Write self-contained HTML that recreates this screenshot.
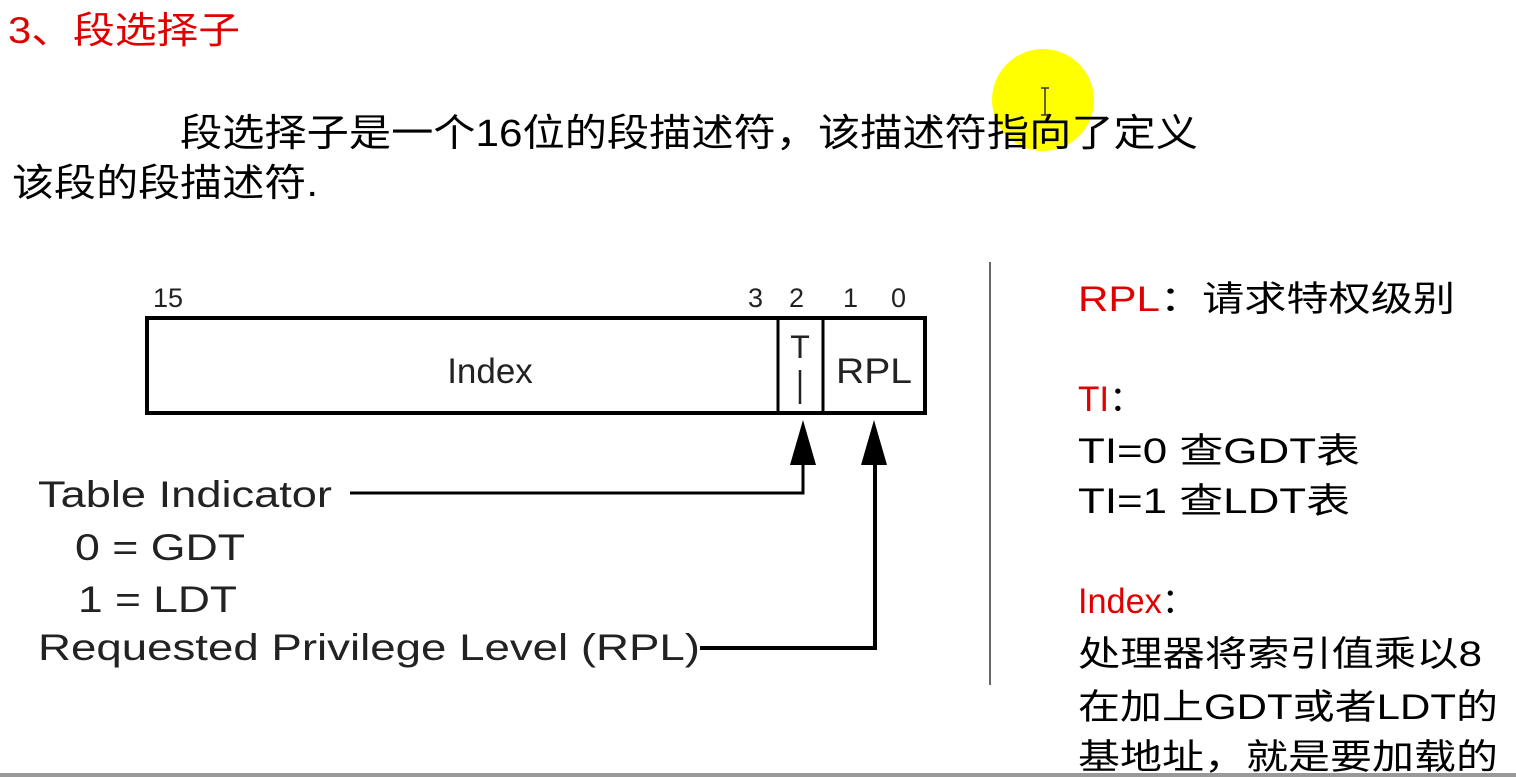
<!DOCTYPE html>
<html><head><meta charset="utf-8"><style>
html,body{margin:0;padding:0;background:#fff;}
svg{display:block}
text{font-family:"Liberation Sans","Noto Sans CJK SC",sans-serif;}
</style></head><body>
<svg width="1516" height="777" viewBox="0 0 1516 777" xmlns="http://www.w3.org/2000/svg">
<rect width="1516" height="777" fill="#fff"/>
<circle cx="1043" cy="100" r="51" fill="#ffff00"/>
<text x="8" y="43" font-size="37" fill="#e00000" textLength="232" lengthAdjust="spacingAndGlyphs">3、段选择子</text>
<text x="180" y="146" font-size="38" fill="#000" textLength="1018" lengthAdjust="spacingAndGlyphs">段选择子是一个16位的段描述符，该描述符指向了定义</text>
<text x="12" y="196" font-size="38" fill="#000" textLength="306" lengthAdjust="spacingAndGlyphs">该段的段描述符.</text>
<path d="M1041 88h8M1045 88v27M1041 115h8" stroke="#333" stroke-width="1.5" fill="none"/>

<g fill="#222" font-size="27">
<text x="153" y="307">15</text>
<text x="748" y="307">3</text>
<text x="789" y="307">2</text>
<text x="843" y="307">1</text>
<text x="891" y="307">0</text>
</g>
<rect x="147" y="318" width="778" height="95" fill="none" stroke="#000" stroke-width="4"/>
<line x1="778" y1="318" x2="778" y2="413" stroke="#000" stroke-width="3"/>
<line x1="823" y1="318" x2="823" y2="413" stroke="#000" stroke-width="3"/>
<text x="490" y="383" font-size="35" fill="#222" text-anchor="middle">Index</text>
<text x="800" y="358" font-size="32" fill="#222" text-anchor="middle">T</text>
<line x1="800" y1="370" x2="800" y2="404" stroke="#222" stroke-width="2.5"/>
<text x="836" y="383" font-size="35" fill="#222" textLength="76" lengthAdjust="spacingAndGlyphs">RPL</text>

<path d="M350 493H803V450" stroke="#000" stroke-width="3" fill="none"/>
<polygon points="803,420 790,465 816,465" fill="#000"/>
<path d="M700 648H875V450" stroke="#000" stroke-width="4" fill="none"/>
<polygon points="874,420 861,465 887,465" fill="#000"/>

<g font-size="37" fill="#222">
<text x="38" y="507" textLength="294" lengthAdjust="spacingAndGlyphs">Table Indicator</text>
<text x="75" y="560" textLength="170" lengthAdjust="spacingAndGlyphs">0 = GDT</text>
<text x="78" y="612" textLength="159" lengthAdjust="spacingAndGlyphs">1 = LDT</text>
<text x="38" y="660" textLength="662" lengthAdjust="spacingAndGlyphs">Requested Privilege Level (RPL)</text>
</g>

<line x1="990" y1="262" x2="990" y2="685" stroke="#333" stroke-width="1.5"/>

<g font-size="35">
<text x="1078" y="311" textLength="377" lengthAdjust="spacingAndGlyphs"><tspan fill="#e00000">RPL</tspan><tspan fill="#000">：请求特权级别</tspan></text>
<text x="1078" y="411"><tspan fill="#e00000">TI</tspan><tspan fill="#000">：</tspan></text>
<text x="1078" y="463" fill="#000" textLength="282" lengthAdjust="spacingAndGlyphs">TI=0  查GDT表</text>
<text x="1078" y="513" fill="#000" textLength="272" lengthAdjust="spacingAndGlyphs">TI=1  查LDT表</text>
<text x="1078" y="613" textLength="118" lengthAdjust="spacingAndGlyphs"><tspan fill="#e00000">Index</tspan><tspan fill="#000">：</tspan></text>
<text x="1078" y="666" fill="#000" textLength="404" lengthAdjust="spacingAndGlyphs">处理器将索引值乘以8</text>
<text x="1078" y="719" fill="#000" textLength="420" lengthAdjust="spacingAndGlyphs">在加上GDT或者LDT的</text>
<text x="1078" y="769" fill="#000" textLength="420" lengthAdjust="spacingAndGlyphs">基地址，就是要加载的</text>
</g>
<rect x="0" y="773" width="1516" height="4" fill="#999"/>
</svg>
</body></html>
